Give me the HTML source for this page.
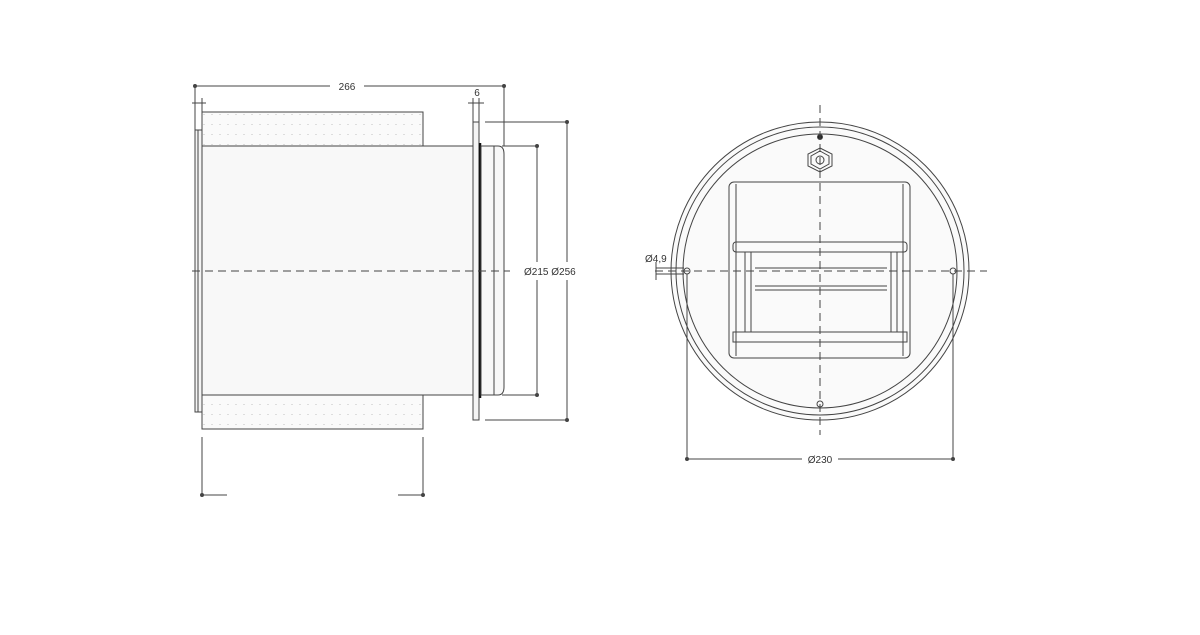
<!DOCTYPE html>
<html><head><style>html,body{margin:0;padding:0;background:#fff}</style></head>
<body>
<svg width="1200" height="630" viewBox="0 0 1200 630" xmlns="http://www.w3.org/2000/svg" font-family="Liberation Sans, sans-serif" font-size="10" fill="none" stroke="#444" stroke-width="1">
<defs>
<pattern id="dots" width="8" height="10" patternUnits="userSpaceOnUse"><rect x="3" y="4" width="2" height="1" fill="#ddd" stroke="none"/></pattern>
</defs>
<!-- left view -->
<rect x="202" y="112" width="221" height="317" fill="#fafafa"/>
<rect x="202" y="112" width="221" height="317" fill="url(#dots)" stroke="none"/>
<rect x="202" y="146" width="271" height="249" fill="#f8f8f8"/>
<rect x="195" y="130" width="7" height="282" fill="#f4f4f4"/>
<line x1="198" y1="130" x2="198" y2="412"/>
<rect x="473" y="122" width="6" height="298" fill="#f4f4f4"/>
<line x1="480" y1="143" x2="480" y2="398" stroke="#111" stroke-width="2.5"/>
<path d="M481 146 H498 Q504 146 504 154 V387 Q504 395 498 395 H481 Z" fill="#f8f8f8"/>
<line x1="494" y1="146" x2="494" y2="395"/>
<!-- centerline -->
<line x1="192" y1="271" x2="510" y2="271" stroke-dasharray="8,5"/>
<!-- top dims -->
<line x1="195" y1="86" x2="330" y2="86"/><line x1="364" y1="86" x2="504" y2="86"/>
<circle cx="195" cy="86" r="1.5" fill="#444"/><circle cx="504" cy="86" r="1.5" fill="#444"/>
<line x1="504" y1="86" x2="504" y2="146"/>
<line x1="195" y1="86" x2="195" y2="130"/>
<text x="347" y="90" fill="#333" stroke="none" text-anchor="middle">266</text>
<line x1="192" y1="103" x2="206" y2="103"/><line x1="202" y1="98" x2="202" y2="112"/>
<line x1="468" y1="103" x2="484" y2="103"/><line x1="473" y1="98" x2="473" y2="122"/><line x1="479" y1="98" x2="479" y2="122"/>
<text x="477" y="96" fill="#333" stroke="none" text-anchor="middle">6</text>
<!-- right dims -->
<line x1="485" y1="122" x2="567" y2="122"/><line x1="485" y1="420" x2="567" y2="420"/>
<line x1="567" y1="122" x2="567" y2="262"/><line x1="567" y1="280" x2="567" y2="420"/>
<circle cx="567" cy="122" r="1.5" fill="#444"/><circle cx="567" cy="420" r="1.5" fill="#444"/>
<line x1="502" y1="146" x2="537" y2="146"/><line x1="502" y1="395" x2="537" y2="395"/>
<line x1="537" y1="146" x2="537" y2="262"/><line x1="537" y1="280" x2="537" y2="395"/>
<circle cx="537" cy="146" r="1.5" fill="#444"/><circle cx="537" cy="395" r="1.5" fill="#444"/>
<text x="524" y="275" fill="#333" stroke="none">Ø215 Ø256</text>
<!-- bottom -->
<line x1="202" y1="437" x2="202" y2="495"/><line x1="423" y1="437" x2="423" y2="495"/>
<line x1="202" y1="495" x2="227" y2="495"/><line x1="398" y1="495" x2="423" y2="495"/>
<circle cx="202" cy="495" r="1.5" fill="#444"/><circle cx="423" cy="495" r="1.5" fill="#444"/>
<!-- right view -->
<circle cx="820" cy="271" r="149" fill="#fafafa"/>
<circle cx="820" cy="271" r="144"/>
<circle cx="820" cy="271" r="137"/>
<rect x="729" y="182" width="181" height="176" rx="5" fill="#fafafa"/>
<line x1="736" y1="184" x2="736" y2="356"/><line x1="903" y1="184" x2="903" y2="356"/>
<rect x="733" y="242" width="174" height="10" rx="3"/>
<rect x="745" y="252" width="152" height="80"/>
<line x1="751" y1="252" x2="751" y2="332"/><line x1="891" y1="252" x2="891" y2="332"/>
<rect x="733" y="332" width="174" height="10"/>
<line x1="755" y1="268" x2="887" y2="268"/><line x1="755" y1="286" x2="887" y2="286"/><line x1="755" y1="290" x2="887" y2="290"/>
<polygon points="820,148 832,154 832,166 820,172 808,166 808,154"/>
<polygon points="820,151 829,156 829,164 820,169 811,164 811,156"/>
<circle cx="820" cy="160" r="4"/>
<circle cx="820" cy="137" r="2.5" fill="#222"/>
<circle cx="820" cy="404" r="3"/>
<circle cx="687" cy="271" r="3"/>
<circle cx="953" cy="271" r="3"/>
<line x1="820" y1="105" x2="820" y2="435" stroke-dasharray="8,5"/>
<line x1="655" y1="271" x2="987" y2="271" stroke-dasharray="8,5"/>
<text x="645" y="262" fill="#333" stroke="none">Ø4,9</text>
<line x1="656" y1="268" x2="684" y2="268"/><line x1="656" y1="274" x2="684" y2="274"/>
<line x1="656" y1="262" x2="656" y2="280"/>
<line x1="687" y1="274" x2="687" y2="459"/><line x1="953" y1="274" x2="953" y2="459"/>
<line x1="687" y1="459" x2="802" y2="459"/><line x1="838" y1="459" x2="953" y2="459"/>
<circle cx="687" cy="459" r="1.5" fill="#444"/><circle cx="953" cy="459" r="1.5" fill="#444"/>
<text x="820" y="463" fill="#333" stroke="none" text-anchor="middle">Ø230</text>
</svg>
</body></html>
